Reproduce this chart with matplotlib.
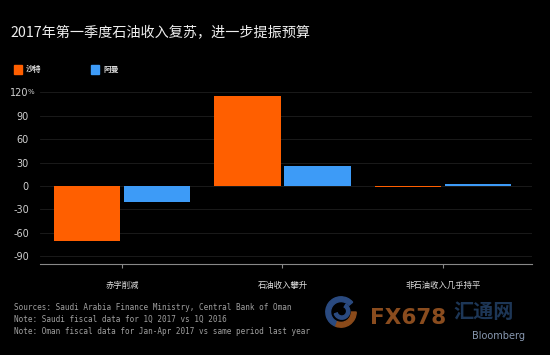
import matplotlib
matplotlib.use("Agg")
import matplotlib.pyplot as plt
from matplotlib.patches import Rectangle, Wedge
import numpy as np

categories = ["赤字削减", "石油收入攀升", "非石油收入几乎持平"]
saudi = [-71, 115, -1]
oman = [-21, 26, 2.5]
series_names = ["沙特", "阿曼"]
yticks = [-90, -60, -30, 0, 30, 60, 90, 120]
title = "2017年第一季度石油收入复苏，进一步提振预算"
notes = ["Sources: Saudi Arabia Finance Ministry, Central Bank of Oman",
         "Note: Saudi fiscal data for 1Q 2017 vs 1Q 2016",
         "Note: Oman fiscal data for Jan-Apr 2017 vs same period last year"]

plt.rcParams['font.family'] = ['Noto Sans CJK SC', 'DejaVu Sans']

W, H = 550, 355
fig = plt.figure(figsize=(W / 100, H / 100), dpi=100, facecolor="black")

def fx(px):
    return px / W

def fy(py):
    return 1 - py / H

orange = "#ff5f00"
blue = "#3d9bf7"

ax = fig.add_axes([fx(40), fy(264), fx(532) - fx(40), fy(90) - fy(264)])
ax.set_facecolor("black")

x = np.arange(len(categories))
w = 0.413
off = 0.2175
ax.bar(x - off, saudi, w, color=orange, zorder=3)
ax.bar(x + off, oman, w, color=blue, zorder=3)
ax.set_xlim(-0.511, 2.555)
ax.set_ylim(-100, 123)

ax.set_yticks(yticks)
ax.set_yticklabels([str(t) for t in yticks])
ax.tick_params(axis="y", length=0, pad=8, labelsize=7, labelcolor="#d0d0d0")
for lab in ax.get_yticklabels():
    lab.set_family("DejaVu Sans")
ax.text(-0.511 - 12.5 / 160.5, 120.5, "%", transform=ax.transData, ha="left", va="center",
        fontsize=5, color="#d0d0d0", family="DejaVu Sans")
ax.grid(axis="y", color="#1f1f1f", linewidth=0.6, zorder=0)

ax.set_xticks(x)
ax.set_xticklabels(categories)
ax.tick_params(axis="x", length=3, width=0.8, color="#888888", direction="out",
               pad=9, labelsize=6, labelcolor="#e0e0e0")

for s in ["top", "right", "left"]:
    ax.spines[s].set_visible(False)
ax.spines["bottom"].set_color("#888888")
ax.spines["bottom"].set_linewidth(0.8)

# title
fig.text(fx(10), fy(33), title, fontsize=10.2, color="#eeeeee", ha="left", va="center")

# legend
for (px, name, col) in [(14, series_names[0], orange), (91, series_names[1], blue)]:
    fig.patches.append(Rectangle((fx(px), fy(74)), fx(8), fy(65) - fy(74),
                                 transform=fig.transFigure, color=col))
    fig.text(fx(px + 12), fy(69.5), name, fontsize=5.6, color="#dddddd",
             ha="left", va="center", fontweight="bold")

# notes
for i, line in enumerate(notes):
    fig.text(fx(14), fy(308 + i * 11.8), line, fontsize=5.5, color="#a0a0a0",
             ha="left", va="center", family="DejaVu Sans Mono")

# watermark / branding
logo_ax = fig.add_axes([fx(325), fy(328), fx(32), fy(296) - fy(328)])
logo_ax.set_xlim(-1, 1)
logo_ax.set_ylim(-1, 1)
logo_ax.axis("off")
logo_ax.add_patch(Wedge((0, 0), 0.95, 40, 250, width=0.3, color="#2a4a80"))
logo_ax.add_patch(Wedge((0, 0), 0.95, 250, 360, width=0.3, color="#8a4a1a"))
logo_ax.add_patch(Wedge((0.05, 0.05), 0.5, 200, 60, width=0.2, color="#2a4a80"))

fig.text(fx(370), fy(318), "FX678", fontsize=15.5, color="#8a4c1e", ha="left",
         va="center", fontweight="bold", family="DejaVu Sans")
fig.text(fx(453), fy(312), "汇通网", fontsize=14.5, color="#1d3656", ha="left",
         va="center", fontweight="bold")
fig.text(fx(525), fy(336), "Bloomberg", fontsize=7, color="#8898b0", ha="right",
         va="center", family="DejaVu Sans")

fig.savefig("out.png", dpi=100, facecolor="black")
